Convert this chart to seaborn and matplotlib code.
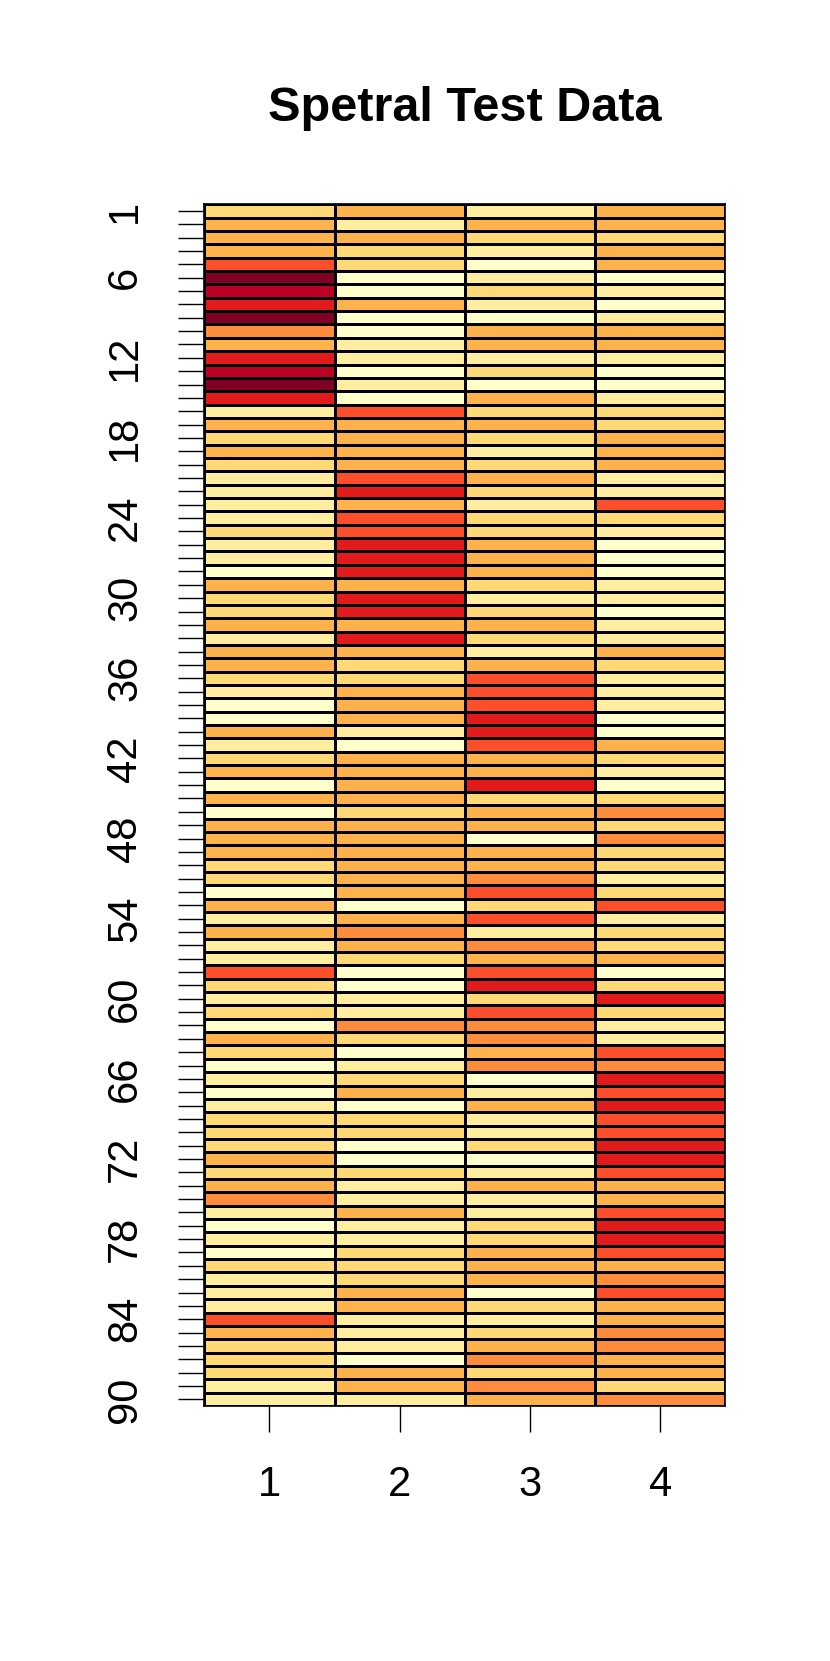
import numpy as np
import pandas as pd
import seaborn as sns
import matplotlib
matplotlib.use("Agg")
import matplotlib.pyplot as plt
from matplotlib.colors import ListedColormap

# Data: colour level (0-8) of each of 90 rows in the 4 columns
col1 = [2,3,3,3,5,8,7,6,8,4,3,6,7,8,6,
        1,3,2,3,2,1,1,1,1,2,1,1,0,3,2,
        2,3,1,3,3,2,1,0,0,3,1,2,3,0,3,
        0,3,3,3,2,2,0,3,1,3,1,1,5,2,1,
        2,0,3,2,0,1,0,1,2,2,2,3,2,3,4,
        1,0,1,0,2,1,1,1,5,3,2,2,2,1,1]
col2 = [3,1,3,2,2,0,0,3,0,0,1,1,0,1,0,
        5,3,3,3,3,5,6,3,5,5,6,6,6,3,6,
        6,3,6,3,2,2,3,3,3,1,0,3,3,3,3,
        2,3,3,3,3,3,3,0,3,4,3,2,0,0,1,
        1,4,2,0,1,2,3,0,2,2,0,0,2,1,1,
        3,1,1,2,2,2,3,3,1,1,1,0,3,3,1]
col3 = [1,3,2,1,0,1,2,1,0,3,3,1,2,0,3,
        2,3,2,1,2,3,2,1,2,2,3,3,3,2,1,
        2,3,2,1,3,5,5,5,6,6,5,3,3,6,2,
        3,3,0,3,3,4,5,2,5,1,4,3,5,6,2,
        5,4,4,3,4,0,1,3,1,1,2,0,1,3,1,
        1,2,2,3,3,3,0,2,1,2,3,4,2,4,3]
col4 = [3,3,2,3,3,0,1,0,1,3,3,1,0,0,1,
        2,2,3,3,3,1,1,5,2,1,0,0,0,1,1,
        0,1,1,3,2,1,1,1,0,0,3,2,1,0,2,
        4,2,4,2,2,1,2,5,1,2,2,3,0,2,6,
        2,1,1,5,4,6,5,6,5,5,6,6,5,3,3,
        5,6,6,5,3,4,5,3,3,4,4,3,3,2,4]

row_labels = [str(i) for i in range(1, 91)]
col_labels = ["1", "2", "3", "4"]
shown_row_labels = ["1", "6", "12", "18", "24", "30", "36", "42", "48",
                    "54", "60", "66", "72", "78", "84", "90"]
title = "Spetral Test Data"

palette = ["#ffffcc", "#ffeda0", "#fed976", "#feb24c", "#fd8d3c",
           "#fc4e2a", "#e31a1c", "#bd0026", "#800026"]

df = pd.DataFrame({"1": col1, "2": col2, "3": col3, "4": col4}, index=row_labels)

sns.set_style("white")
plt.rcParams["font.family"] = ["Liberation Sans", "DejaVu Sans"]
plt.rcParams["text.color"] = "black"
plt.rcParams["xtick.color"] = "black"
plt.rcParams["ytick.color"] = "black"
plt.rcParams["xtick.labelcolor"] = "black"
plt.rcParams["ytick.labelcolor"] = "black"

fig = plt.figure(figsize=(8.30, 16.61), dpi=100)
ax = fig.add_axes([204.3/830, 1 - 1406/1661, (725.3-204.3)/830, (1406-204.3)/1661])

sns.heatmap(df, ax=ax, cmap=ListedColormap(palette), vmin=-0.5, vmax=8.5,
            cbar=False, linewidths=1.0, linecolor="black")

ax.set_xticks(np.arange(4) + 0.5)
ax.set_xticklabels(col_labels, rotation=0, fontsize=30, color="black")
ax.set_yticks(np.arange(90) + 0.5)
ax.set_yticklabels([l if l in shown_row_labels else "" for l in row_labels],
                   rotation=90, va="center", fontsize=30, color="black")
ax.tick_params(axis="both", which="both", length=18.7, width=1.0, color="black",
               left=True, bottom=True)
ax.tick_params(axis="x", pad=24)
ax.tick_params(axis="y", pad=24)
ax.set_xlabel("")
ax.set_ylabel("")
for s in ax.spines.values():
    s.set_visible(True)
    s.set_color("black")
    s.set_linewidth(1.2)

fig.text(464.8/830, 1 - 121/1661, title, ha="center", va="baseline",
         fontsize=35, fontweight="bold", color="black")

fig.savefig("out.png", dpi=100)
